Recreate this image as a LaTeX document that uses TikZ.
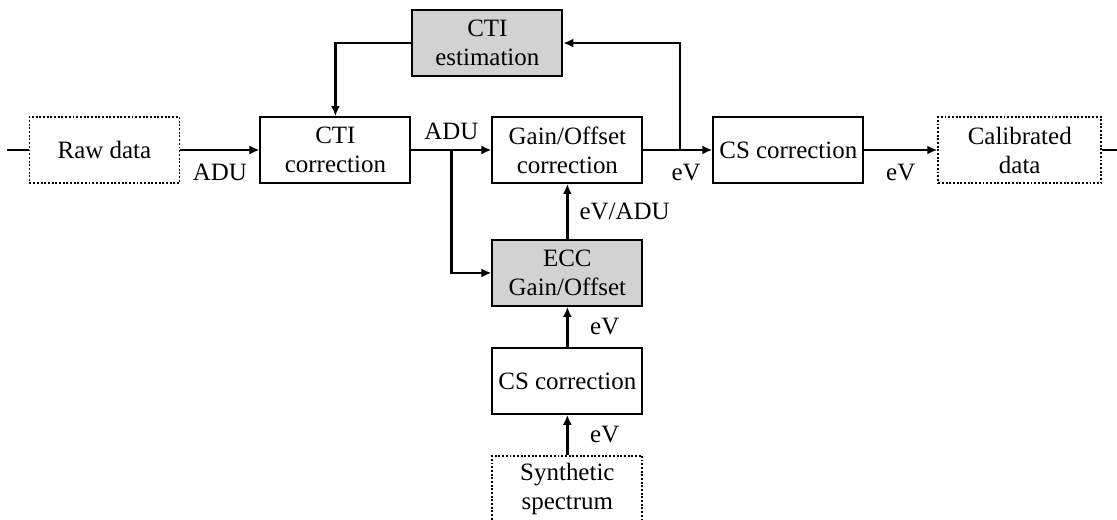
\documentclass[tikz,border=0pt]{standalone}
\usepackage{fontspec}
\setmainfont{Liberation Serif}
\usetikzlibrary{arrows.meta, positioning, calc}

\begin{document}
\begin{tikzpicture}[
    >={Latex[length=2mm,width=1.8mm]},
    node distance=1.6cm,
    every node/.style={font=\fontsize{14.2}{16.5}\selectfont},
    block/.style={rectangle, draw, line width=1.1pt, inner sep=1pt,
                  minimum width=3cm, minimum height=1.32cm, align=center},
    proc/.style={block},
    calib/.style={block, fill=gray!35},
    data/.style={block, densely dotted},
    arrow/.style={->, line width=1.3pt},
    wire/.style={line width=1.3pt}
]

% Page frame (Raw data sits at the origin)
\useasboundingbox (-2.09,3.0) rectangle (20.25,-7.4);

% Main chain
\node[data] (raw) at (0,0) {Raw data};
\node[proc, right=1.58cm of raw] (ctic) {CTI\\correction};
\node[proc, right=1.6cm of ctic] (gain) {Gain/Offset\\correction};
\node[proc, right=1.38cm of gain] (csc) {CS correction};
\node[data, right=1.46cm of csc, minimum width=3.26cm] (cal) {Calibrated\\data};

% Calibration blocks
\node[calib, above right=0.78cm and 0cm of ctic.north east] (ctie) {CTI\\estimation};
\node[calib, below=1.1cm of gain] (ecc) {ECC\\Gain/Offset};
\node[proc, below=0.8cm of ecc] (css) {CS correction};
\node[data, below=0.8cm of css] (syn) {Synthetic\\spectrum};

% Branch points
\coordinate[left=0.44cm of raw.west] (in);
\coordinate[right=0.38cm of cal.east] (out);
\coordinate[right=0.8cm of ctic.east] (split);
\coordinate[right=0.74cm of gain.east] (tap);

% Main flow
\draw[wire] (in) -- (raw);
\draw[arrow] (raw) -- node[below=4pt]{ADU} (ctic);
\draw[arrow] (ctic) -- node[above=2pt]{ADU} (gain);
\draw[arrow] (gain) -- node[below=4pt, pos=0.62]{eV} (csc);
\draw[arrow] (csc) -- node[below=4pt]{eV} (cal);
\draw[wire] (cal) -- (out);

% CTI loop
\draw[arrow] (tap) |- (ctie.east);
\draw[arrow] (ctie.west) -| (ctic.north);

% Energy scale
\draw[arrow] (split) |- (ecc.west);
\draw[arrow] (ecc) -- node[right=3pt]{eV/ADU} (gain);
\draw[arrow] (css) -- node[right=9pt]{eV} (ecc);
\draw[arrow] (syn) -- node[right=9pt]{eV} (css);

\end{tikzpicture}
\end{document}
